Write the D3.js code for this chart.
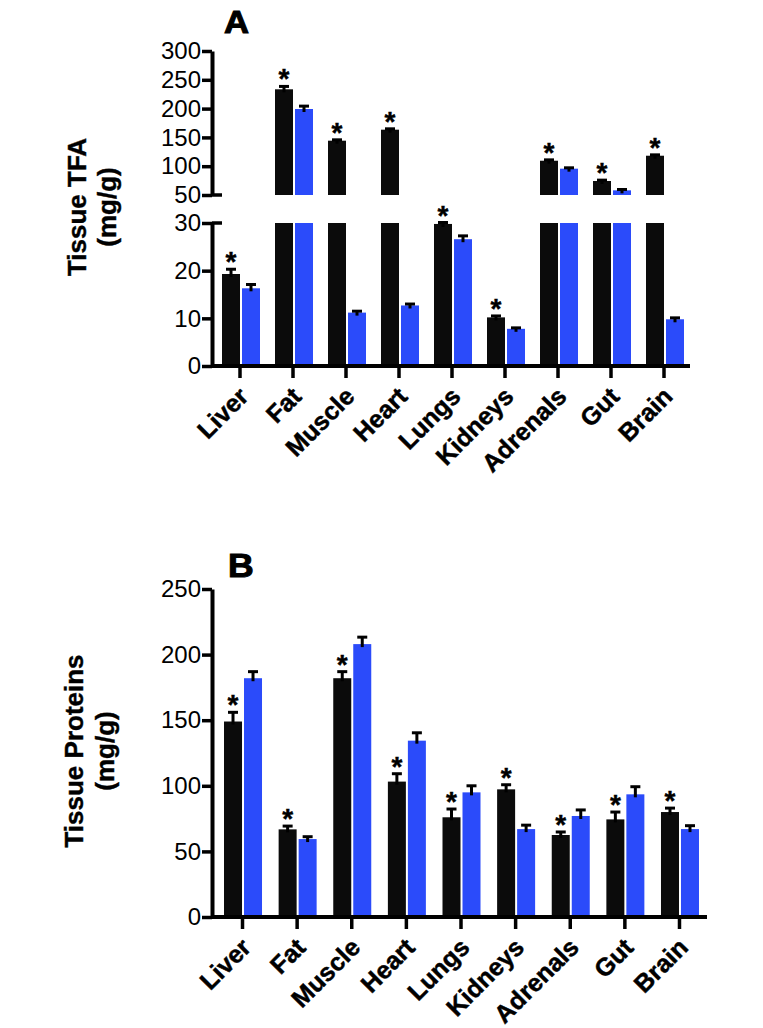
<!DOCTYPE html>
<html><head><meta charset="utf-8">
<script src="https://cdn.jsdelivr.net/npm/d3@7"></script>
<style>
body{margin:0;background:#fff}
svg{display:block}
text{font-family:"Liberation Sans",Arial,Helvetica,sans-serif;fill:#000}
</style>
</head><body>
<svg id="chart" width="763" height="1028"></svg>
<script>
// ---------- data ----------
const categories = ["Liver","Fat","Muscle","Heart","Lungs","Kidneys","Adrenals","Gut","Brain"];

// Panel A: Tissue TFA (mg/g)
const tfaBlack    = [19.3, 233.5, 144.3, 163.4, 29.8, 10.2, 109.5, 74.3, 118.2];
const tfaBlackErr = [1.0, 5.0, 1.5, 1.5, 0.3, 0.3, 1.5, 1.5, 1.5];
const tfaBlue     = [16.3, 199.3, 11.2, 12.7, 26.6, 7.8, 95.7, 58.1, 9.8];
const tfaBlueErr  = [0.8, 5.0, 0.3, 0.3, 0.7, 0.2, 1.5, 1.5, 0.3];
const tfaStar     = [true, true, true, true, true, true, true, true, true];
const tfaTicksTop = [50, 100, 150, 200, 250, 300];
const tfaTicksBottom = [0, 10, 20, 30];

// Panel B: Tissue Proteins (mg/g)
const protBlack    = [149, 66.8, 182, 103.2, 76, 97.3, 62.5, 74.4, 80];
const protBlackErr = [7, 2.5, 5, 6, 6.3, 3.5, 2.3, 5.6, 3];
const protBlue     = [182, 59.4, 208, 134.4, 95, 67, 77, 93.5, 67];
const protBlueErr  = [5, 1.8, 5.3, 6, 5, 3, 4.6, 5.8, 2.6];
const protStar     = [true, true, true, true, true, true, true, true, true];
const protTicks    = [0, 50, 100, 150, 200, 250];

// ---------- drawing ----------
const svg = d3.select("#chart");
svg.append("rect").attr("width",763).attr("height",1028).attr("fill","#fff");
const BLACK = "#0b0b0b", BLUE = "#2b4bfa";
const BW = 18;

function styleAxis(g, fs){
  g.select(".domain").attr("stroke","#000").attr("stroke-width",4);
  g.selectAll(".tick line").attr("stroke","#000").attr("stroke-width",3.5);
  g.selectAll(".tick text").attr("font-size",fs).attr("fill","#000");
}

function xLabels(g){
  g.selectAll(".tick text")
    .attr("x",0).attr("y",0).attr("dy",0)
    .attr("text-anchor","end")
    .attr("font-weight","bold")
    .attr("font-size",25)
    .attr("stroke","#000").attr("stroke-width",0.5)
    .attr("transform","translate(10,32) rotate(-45)");
}

function drawErr(g, cx, yBar, yTopE){
  g.append("line").attr("x1",cx).attr("x2",cx).attr("y1",yBar+3).attr("y2",yTopE)
    .attr("stroke","#000").attr("stroke-width",3);
  g.append("line").attr("x1",cx-5).attr("x2",cx+5).attr("y1",yTopE).attr("y2",yTopE)
    .attr("stroke","#000").attr("stroke-width",3);
}

function star(g, x, y){
  g.append("text").attr("x",x).attr("y",y)
    .attr("text-anchor","middle").attr("font-weight","bold").attr("font-size",28)
    .attr("stroke","#000").attr("stroke-width",0.4).text("*");
}

// ===== Panel A =====
const xA = d3.scaleBand().domain(categories).range([213.5, 690.5]);
const yTop = d3.scaleLinear().domain([50,300]).range([195,51]);
const yBot = d3.scaleLinear().domain([0,30]).range([366,223]);
const gA = svg.append("g");

function drawBarA(cx0, v, err, color){
  const sc = v > 30 ? yTop : yBot;
  if (v <= 30) {
    gA.append("rect").attr("x",cx0).attr("y",yBot(v)).attr("width",BW).attr("height",yBot(0)-yBot(v)).attr("fill",color);
  } else {
    gA.append("rect").attr("x",cx0).attr("y",yBot(30)).attr("width",BW).attr("height",yBot(0)-yBot(30)).attr("fill",color);
    gA.append("rect").attr("x",cx0).attr("y",yTop(v)).attr("width",BW).attr("height",yTop(50)-yTop(v)).attr("fill",color);
  }
  drawErr(gA, cx0+BW/2, sc(v), sc(v+err));
  return sc(v+err);
}

categories.forEach((c,i)=>{
  const cx = xA(c) + xA.bandwidth()/2;
  const topY = drawBarA(cx-18, tfaBlack[i], tfaBlackErr[i], BLACK);
  drawBarA(cx+2, tfaBlue[i], tfaBlueErr[i], BLUE);
  if (tfaStar[i]) star(gA, cx-18+BW/2, topY+2);
});

const axTop = gA.append("g").attr("transform","translate(212,0)")
  .call(d3.axisLeft(yTop).tickValues(tfaTicksTop).tickSize(10).tickSizeOuter(0).tickPadding(1));
styleAxis(axTop, 24);
const axBot = gA.append("g").attr("transform","translate(212,0)")
  .call(d3.axisLeft(yBot).tickValues(tfaTicksBottom).tickSize(10).tickSizeOuter(0).tickPadding(1));
styleAxis(axBot, 24);
// break caps
gA.append("line").attr("x1",212).attr("x2",222).attr("y1",yTop(50)).attr("y2",yTop(50)).attr("stroke","#000").attr("stroke-width",3.5);
gA.append("line").attr("x1",212).attr("x2",222).attr("y1",yBot(30)).attr("y2",yBot(30)).attr("stroke","#000").attr("stroke-width",3.5);

const axXA = gA.append("g").attr("transform","translate(0,366)")
  .call(d3.axisBottom(xA).tickSize(12).tickSizeOuter(0));
styleAxis(axXA, 25);
axXA.select(".domain").attr("d","M212,0H690");
xLabels(axXA);

gA.append("text").attr("transform","translate(224,33) scale(1.12,1)").attr("font-weight","bold")
  .attr("font-size",31).attr("stroke","#000").attr("stroke-width",1).text("A");
gA.append("text").attr("transform","translate(86,207) rotate(-90)").attr("text-anchor","middle")
  .attr("font-weight","bold").attr("font-size",26).attr("stroke","#000").attr("stroke-width",0.4).text("Tissue TFA");
gA.append("text").attr("transform","translate(116,207) rotate(-90)").attr("text-anchor","middle")
  .attr("font-weight","bold").attr("font-size",26).attr("stroke","#000").attr("stroke-width",0.4).text("(mg/g)");

// ===== Panel B =====
const xB = d3.scaleBand().domain(categories).range([215.2, 706.8]);
const yB = d3.scaleLinear().domain([0,250]).range([917,589]);
const gB = svg.append("g");

categories.forEach((c,i)=>{
  const cx = xB(c) + xB.bandwidth()/2;
  [[cx-18.5, protBlack[i], protBlackErr[i], BLACK],[cx+1.5, protBlue[i], protBlueErr[i], BLUE]].forEach(([x0,v,e,col])=>{
    gB.append("rect").attr("x",x0).attr("y",yB(v)).attr("width",BW).attr("height",yB(0)-yB(v)).attr("fill",col);
    drawErr(gB, x0+BW/2, yB(v), yB(v+e));
  });
  if (protStar[i]) star(gB, cx-18.5+BW/2, yB(protBlack[i]+protBlackErr[i])+2);
});

const axYB = gB.append("g").attr("transform","translate(212,0)")
  .call(d3.axisLeft(yB).tickValues(protTicks).tickSize(10).tickSizeOuter(0).tickPadding(1));
styleAxis(axYB, 24);
const axXB = gB.append("g").attr("transform","translate(0,917)")
  .call(d3.axisBottom(xB).tickSize(12).tickSizeOuter(0));
styleAxis(axXB, 25);
axXB.select(".domain").attr("d","M212,0H707");
xLabels(axXB);

gB.append("text").attr("transform","translate(228,577) scale(1.08,1)").attr("font-weight","bold")
  .attr("font-size",33).attr("stroke","#000").attr("stroke-width",1).text("B");
gB.append("text").attr("transform","translate(83,751) rotate(-90)").attr("text-anchor","middle")
  .attr("font-weight","bold").attr("font-size",26).attr("stroke","#000").attr("stroke-width",0.4).text("Tissue Proteins");
gB.append("text").attr("transform","translate(114,751) rotate(-90)").attr("text-anchor","middle")
  .attr("font-weight","bold").attr("font-size",26).attr("stroke","#000").attr("stroke-width",0.4).text("(mg/g)");
</script>
</body></html>
